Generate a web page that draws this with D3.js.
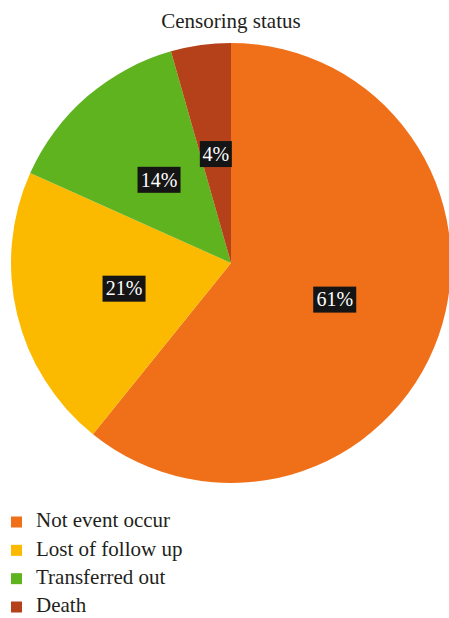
<!DOCTYPE html>
<html>
<head>
<meta charset="utf-8">
<script src="https://cdn.jsdelivr.net/npm/d3@7"></script>
<style>
  body { margin: 0; background: #fff; }
</style>
</head>
<body>
<div id="chart"></div>
<script>
// ----------------------------------------
// DATA
// ----------------------------------------
const categories = ["Not event occur", "Lost of follow up", "Transferred out", "Death"];
const shares = [60.8, 20.9, 13.9, 4.4];
const colors = ["#F07019", "#FBBA00", "#5EB31E", "#B5411A"];

const data = categories.map((c, i) => ({ name: c, value: shares[i], color: colors[i] }));

const width = 449, height = 618;
const cx = 231, cy = 263, radius = 220;
const serif = "'Liberation Serif', 'DejaVu Serif', serif";

const svg = d3.select("#chart")
  .append("svg")
  .attr("width", width)
  .attr("height", height)
  .style("display", "block")
  .style("font-family", serif);

svg.append("text")
  .attr("x", cx)
  .attr("y", 28)
  .attr("text-anchor", "middle")
  .attr("fill", "#231f20")
  .style("font-size", "21px")
  .text("Censoring status");

// ----------------------------------------
// PIE
// ----------------------------------------
const pie = d3.pie().value(d => d.value).sort(null);
const arc = d3.arc().innerRadius(0).outerRadius(radius);
const labelArc = d3.arc().innerRadius(radius / 2).outerRadius(radius / 2);

const g = svg.append("g").attr("transform", `translate(${cx},${cy})`);
const arcs = pie(data);

g.selectAll("path")
  .data(arcs)
  .join("path")
  .attr("d", arc)
  .attr("fill", d => d.data.color);

const labels = g.selectAll(".lbl")
  .data(arcs)
  .join("g")
  .attr("class", "lbl")
  .attr("transform", d => `translate(${labelArc.centroid(d)})`);

labels.append("rect")
  .attr("y", -13)
  .attr("height", 26)
  .attr("fill", "#151515")
  .attr("width", d => d.data.value < 10 ? 32 : 43)
  .attr("x", d => d.data.value < 10 ? -16 : -21.5);

labels.append("text")
  .attr("text-anchor", "middle")
  .attr("dy", "0.34em")
  .attr("fill", "#fff")
  .style("font-size", "20px")
  .text(d => Math.round(d.data.value) + "%");

// ----------------------------------------
// LEGEND
// ----------------------------------------
const yLeg = d3.scalePoint().domain(categories).range([522, 607]);

const leg = svg.selectAll(".leg")
  .data(data)
  .join("g")
  .attr("class", "leg")
  .attr("transform", d => `translate(11,${yLeg(d.name)})`);

leg.append("rect")
  .attr("x", 0)
  .attr("y", -5.5)
  .attr("width", 11)
  .attr("height", 11)
  .attr("fill", d => d.color);

leg.append("text")
  .attr("x", 25)
  .attr("dy", "0.26em")
  .attr("fill", "#231f20")
  .style("font-size", "21px")
  .text(d => d.name);
</script>
</body>
</html>
